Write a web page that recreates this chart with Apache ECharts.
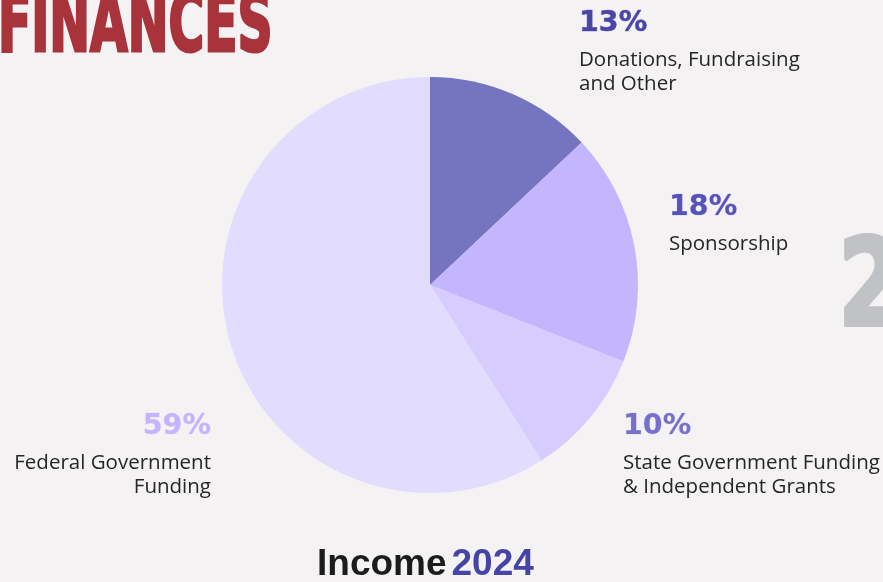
<!DOCTYPE html>
<html><head><meta charset="utf-8">
<script src="https://cdn.jsdelivr.net/npm/echarts@6/dist/echarts.min.js"></script>
<style>html,body{margin:0;padding:0;background:#f4f2f3;}#c{width:883px;height:582px;}</style>
</head><body><div id="c"></div>
<script>
const categories = ['Donations, Fundraising\nand Other', 'Sponsorship', 'State Government Funding\n& Independent Grants', 'Federal Government\nFunding'];
const values = [13, 18, 10, 59];
const sliceColors = ['#7474c0', '#c3b5fe', '#d6ccff', '#e2dcfe'];
const pctColors = ['#4a46a8', '#5753b9', '#7670c9', '#c3b5fd'];
const labelPos = [[579, 0, 'left'], [669, 184, 'left'], [623, 403, 'left'], [211, 403, 'right']];

const chart = echarts.init(document.getElementById('c'));
chart.setOption({
  backgroundColor: '#f4f2f3',
  animation: false,
  title: {
    text: '{a|Income} {b|2024}',
    left: 312, top: 541,
    textStyle: { rich: {
      a: { fontFamily: 'Liberation Sans', fontWeight: 'bold', fontSize: 37, color: '#1c1c1c' },
      b: { fontFamily: 'Liberation Sans', fontWeight: 'bold', fontSize: 37, color: '#4644a5' }
    } }
  },
  graphic: [
    { type: 'text', left: -3, top: -13, scaleX: 0.66, style: { text: 'FINANCES', font: 'bold 82px "DejaVu Sans Condensed"', fill: '#a8333b', stroke: '#a8333b', lineWidth: 3 } },
    { type: 'text', left: 837, top: 231, scaleX: 0.8, scaleY: 0.96, style: { text: '2', font: 'bold 126px "DejaVu Sans Condensed"', fill: '#c0c2c5', stroke: '#c0c2c5', lineWidth: 4 } }
  ],
  series: [{
    type: 'pie',
    center: [430, 285],
    radius: 208,
    startAngle: 90,
    clockwise: true,
    data: values.map((v, i) => ({ value: v, name: categories[i], itemStyle: { color: sliceColors[i] },
      label: { rich: { p: { color: pctColors[i] } }, align: labelPos[i][2] } })),
    label: {
      show: true,
      overflow: 'none',
      formatter: p => '{p|' + p.value + '%}\n' + p.name.split('\n').map(s => '{n|' + s + '}').join('\n'),
      rich: {
        p: { fontFamily: 'DejaVu Sans', fontWeight: 'bold', fontSize: 28.5, lineHeight: 48, textBorderColor: 'inherit', textBorderWidth: 0.6 },
        n: { fontFamily: 'Open Sans', fontSize: 20.5, lineHeight: 24, color: '#262626' }
      }
    },
    labelLine: { show: false },
    labelLayout: function (params) {
      const lp = labelPos[params.dataIndex];
      return { x: lp[0], y: lp[1], align: lp[2], verticalAlign: 'top' };
    }
  }]
});
</script></body></html>
